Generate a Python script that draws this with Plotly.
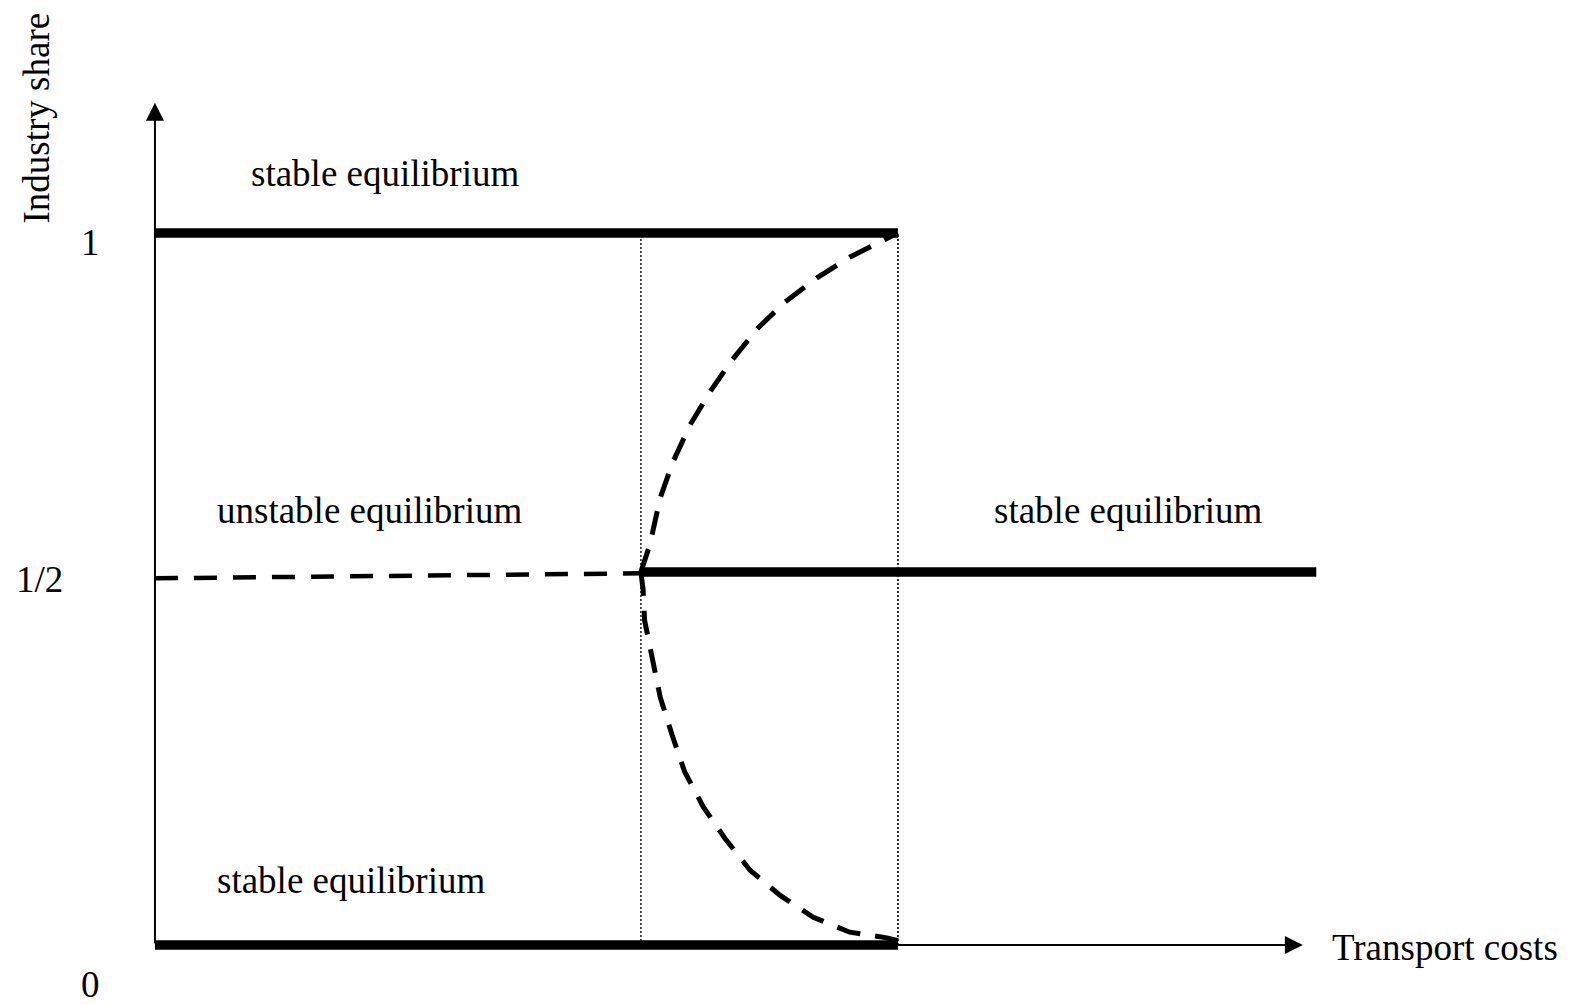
import plotly.graph_objects as go

# transport costs: 0 at origin, 1 at the sustain point
tc_break = 0.654
tc_sustain = 1.0
tc_end = 1.563
tc_axis_end = 1.545
share_axis_end = 1.183

# industry share levels
share_top = 1.0
share_half = 0.524
share_bottom = 0.0

# dashed symmetric line below the break point
sym_x = [0.0, tc_break]
sym_y = [0.515, 0.522]

# unstable branches between break and sustain points
upper_x = [0.654, 0.666, 0.680, 0.697, 0.720, 0.747, 0.777, 0.812, 0.848, 0.891, 0.935, 0.980, 1.000]
upper_y = [0.524, 0.562, 0.628, 0.678, 0.730, 0.777, 0.822, 0.867, 0.903, 0.937, 0.966, 0.990, 1.000]
lower_x = [0.654, 0.657, 0.659, 0.669, 0.680, 0.696, 0.713, 0.738, 0.767, 0.801, 0.841, 0.886, 0.935, 0.985, 1.000]
lower_y = [0.524, 0.499, 0.456, 0.404, 0.348, 0.295, 0.243, 0.194, 0.150, 0.105, 0.070, 0.039, 0.018, 0.010, 0.006]

labels = ["stable equilibrium", "unstable equilibrium", "stable equilibrium", "stable equilibrium"]
label_x = [0.310, 0.289, 1.310, 0.264]
label_y = [1.084, 0.610, 0.610, 0.091]

tick_text = ["1", "1/2", "0"]
tick_x = [-0.087, -0.155, -0.087]
tick_y = [0.987, 0.513, -0.056]

FONT = dict(family="Liberation Serif, Times New Roman, serif", size=37, color="black")

fig = go.Figure()

def add_line(x, y, width, dash="solid"):
    fig.add_trace(go.Scatter(x=x, y=y, mode="lines", hoverinfo="skip",
                             line=dict(color="black", width=width, dash=dash)))

# dotted guides
add_line([tc_break, tc_break], [share_bottom, share_top], 1.3, "2px,2px")
add_line([tc_sustain, tc_sustain], [share_bottom, share_top], 1.6, "2px,2px")

# axes with arrows
fig.add_annotation(x=tc_axis_end, y=0, ax=0, ay=0, xref="x", yref="y", axref="x", ayref="y",
                   text="", showarrow=True, arrowhead=2, arrowwidth=2, arrowsize=1.8,
                   arrowcolor="black", standoff=0)
fig.add_annotation(x=0, y=share_axis_end, ax=0, ay=0, xref="x", yref="y", axref="x", ayref="y",
                   text="", showarrow=True, arrowhead=2, arrowwidth=2, arrowsize=1.8,
                   arrowcolor="black", standoff=0)

# stable equilibria
add_line([0, tc_sustain], [share_top, share_top], 9.5)
add_line([0, tc_sustain], [share_bottom, share_bottom], 9.5)
add_line([tc_break, tc_end], [share_half, share_half], 9.5)

# unstable equilibria
add_line(sym_x, sym_y, 4.5, "23px,16px")
add_line(upper_x, upper_y, 5, "24px,15px")
add_line(lower_x, lower_y, 5, "24px,15px")

for t, x, y in zip(labels, label_x, label_y):
    fig.add_annotation(x=x, y=y, text=t, showarrow=False, font=FONT)
for t, x, y in zip(tick_text, tick_x, tick_y):
    fig.add_annotation(x=x, y=y, text=t, showarrow=False, font=FONT)

fig.add_annotation(x=1.581, y=-0.004, text="Transport costs", showarrow=False,
                   xanchor="left", font=FONT)
fig.add_annotation(x=-0.159, y=1.162, text="Industry share", showarrow=False,
                   textangle=-90, font=FONT)

# the page body adds an 8px offset, so the ranges are shifted to compensate
fig.update_layout(
    width=1573, height=1005,
    margin=dict(l=0, r=0, t=0, b=0),
    plot_bgcolor="white", paper_bgcolor="white",
    showlegend=False,
    xaxis=dict(visible=False, range=[-0.1978, 1.9193]),
    yaxis=dict(visible=False, range=[-0.0955, 1.3160]),
)

fig.write_html("out.html")
